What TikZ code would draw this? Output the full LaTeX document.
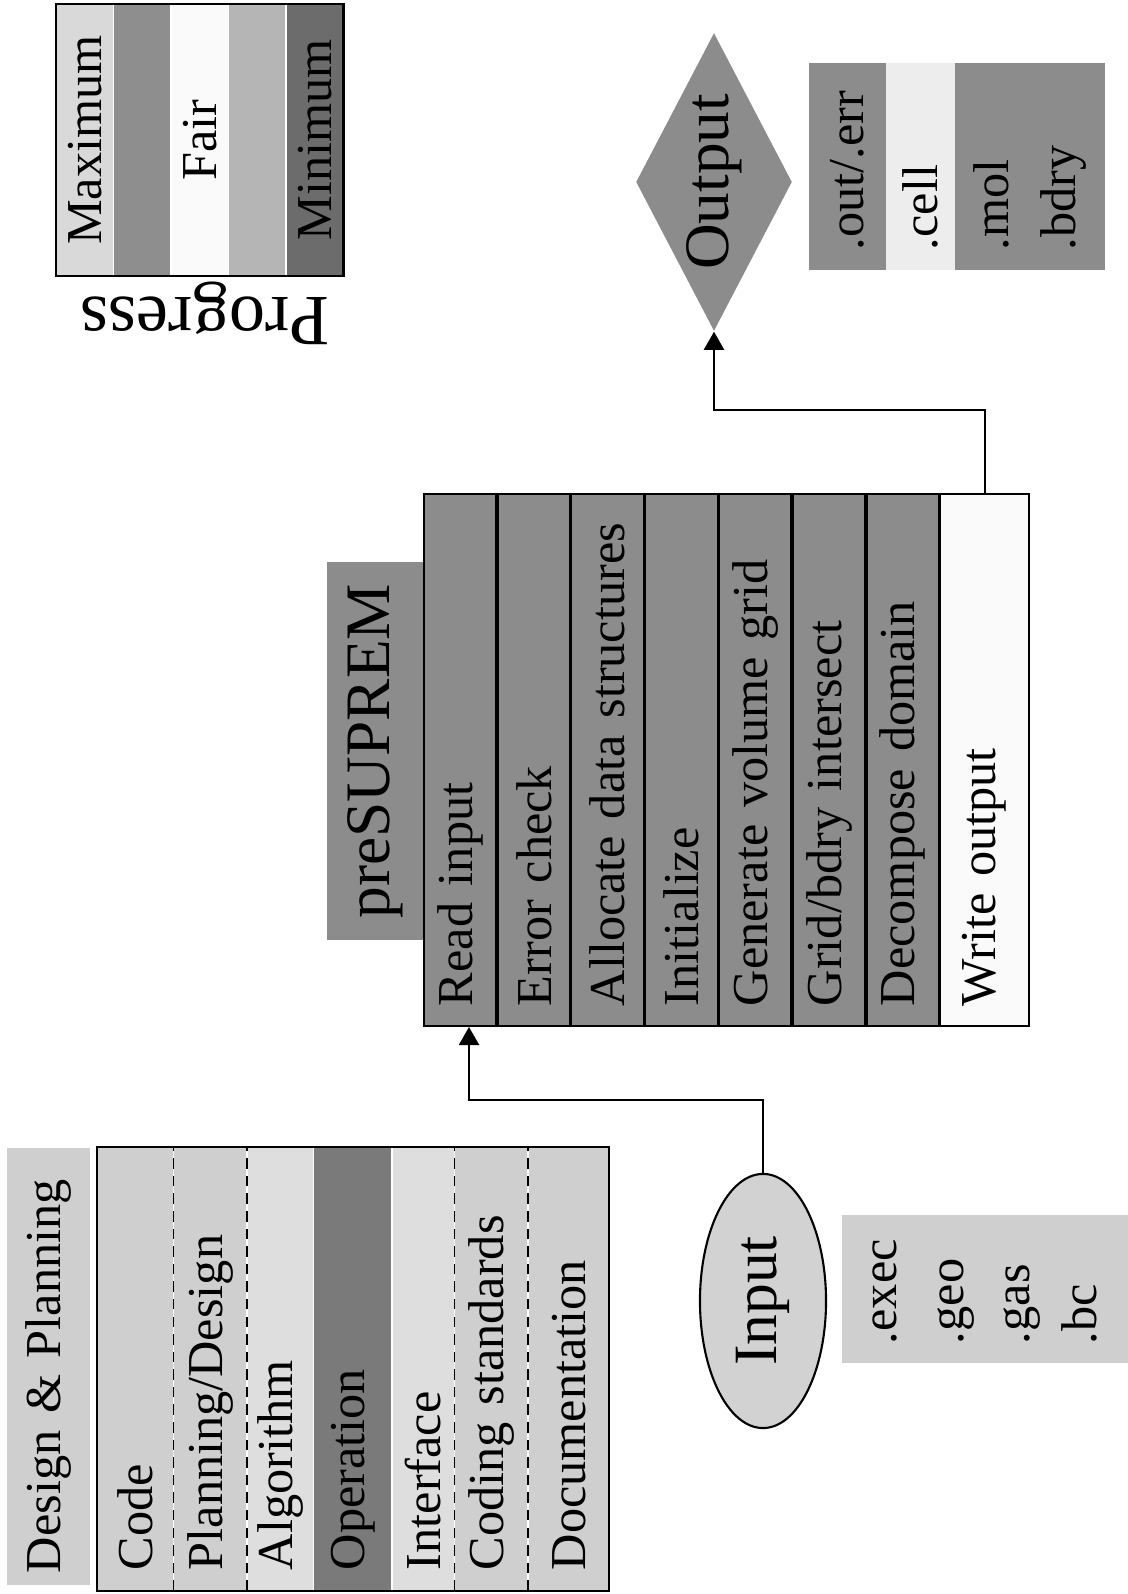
\documentclass[tikz,border=0pt]{standalone}
\usepackage{fontspec}
\setmainfont{Liberation Serif}
\usetikzlibrary{arrows.meta,positioning,shapes.geometric}
\definecolor{MaxGray}{HTML}{D9D9D9}
\definecolor{HighGray}{HTML}{8E8E8E}
\definecolor{FairWhite}{HTML}{FAFAFA}
\definecolor{LowGray}{HTML}{B5B5B5}
\definecolor{MinGray}{HTML}{6C6C6C}
\definecolor{PaleGray}{HTML}{CFCFCF}
\definecolor{PalerGray}{HTML}{DEDEDE}
\definecolor{MidGray}{HTML}{8C8C8C}
\definecolor{DarkGray}{HTML}{7A7A7A}
\definecolor{InGray}{HTML}{D2D2D2}
\newcommand\cellfont{\fontsize{14.3pt}{19pt}\selectfont\hyphenpenalty=10000}
\tikzset{
  stripe/.style={minimum width=2.70cm,minimum height=.56cm,inner sep=0pt,font=\cellfont},
  header/.style={fill=PaleGray,minimum width=4.37cm,minimum height=.83cm,inner xsep=.12cm,
    inner ysep=0pt,text width=4.13cm,align=left,font=\cellfont},
  plan/.style={fill=PaleGray,minimum width=4.42cm,inner xsep=.2cm,inner ysep=0pt,
    text width=4.02cm,align=left,font=\cellfont},
  stage/.style={draw=black,line width=.5pt,fill=MidGray,minimum width=5.32cm,minimum height=.72cm,
    inner xsep=.2cm,inner ysep=0pt,text width=4.92cm,align=left,font=\cellfont},
  filebox/.style={minimum width=2.07cm,inner xsep=.2cm,inner ysep=0pt,text width=1.67cm,
    align=left,font=\cellfont},
  sepline/.style={densely dashed,line width=.4pt},
  arrow/.style={-{Triangle[length=.18cm,width=.2cm]},draw=black,line width=.6pt}
}
\begin{document}
\begin{tikzpicture}[x=0.01cm,y=0.01cm]
  \useasboundingbox (0,0) rectangle (1128,1594);
  \begin{scope}[shift={(1128,0)},rotate=90,transform shape]
    % legend
    \node[stripe,fill=MaxGray] (maximum) at (1454,1043) {Maximum};
    \node[stripe,fill=HighGray,below=0pt of maximum] (high) {};
    \node[stripe,fill=FairWhite,below=0pt of high] (fair) {Fair};
    \node[stripe,fill=LowGray,below=0pt of fair] (low) {};
    \node[stripe,fill=MinGray,below=0pt of low] (minimum) {Minimum};
    \draw[line width=.6pt] (maximum.north west) rectangle (minimum.south east);
    \node[font=\fontsize{20.5pt}{22pt}\selectfont,rotate=90] (progress) at (1281,923) {Progress};

    % design and planning table
    \node[header] (design) at (227.5,1079.5) {Design \& Planning};
    \node[plan,minimum height=.75cm] (code) at (225,992.5) {Code};
    \node[plan,minimum height=.72cm,below=0pt of code] (plandesign) {Planning/Design};
    \node[plan,fill=PalerGray,minimum height=.65cm,below=0pt of plandesign] (algorithm) {Algorithm};
    \node[plan,fill=DarkGray,minimum height=.77cm,below=0pt of algorithm] (operation) {Operation};
    \node[plan,fill=PalerGray,minimum height=.61cm,below=0pt of operation] (interface) {Interface};
    \node[plan,minimum height=.72cm,below=0pt of interface] (codingstd) {Coding standards};
    \node[plan,minimum height=.80cm,below=0pt of codingstd] (documentation) {Documentation};
    \draw[sepline] (code.south west) -- (code.south east);
    \draw[sepline] (plandesign.south west) -- (plandesign.south east);
    \draw[sepline] (interface.south west) -- (interface.south east);
    \draw[sepline] (codingstd.south west) -- (codingstd.south east);
    \draw[line width=.6pt] (code.north west) rectangle (documentation.south east);

    % preSUPREM
    \node[fill=MidGray,minimum width=3.78cm,minimum height=.97cm,inner sep=0pt,
      font=\fontsize{18pt}{20pt}\selectfont] (presuprem) at (843,752.5) {preSUPREM};
    \node[stage] (readin) at (834,668) {Read input};
    \node[stage,below=0pt of readin] (errcheck) {Error check};
    \node[stage,below=0pt of errcheck] (allocate) {Allocate data structures};
    \node[stage,below=0pt of allocate] (initialize) {Initialize};
    \node[stage,below=0pt of initialize] (gengrid) {Generate volume grid};
    \node[stage,below=0pt of gengrid] (intersect) {Grid/bdry intersect};
    \node[stage,below=0pt of intersect] (decompose) {Decompose domain};
    \node[stage,fill=FairWhite,minimum height=.88cm,below=0pt of decompose] (writeout) {Write output};

    % input
    \node[ellipse,draw,line width=.6pt,fill=InGray,minimum width=2.54cm,minimum height=1.26cm,
      inner sep=0pt,font=\fontsize{17.5pt}{20pt}\selectfont] (input) at (293,365) {Input};
    \node[filebox,fill=PaleGray,minimum width=1.48cm,text width=1.1cm,inner xsep=.19cm,
      minimum height=2.86cm] (infiles) at (305,143) {.exec\\.geo\\.gas\\.bc};
    \draw[arrow] (input.east) -- ++(73,0) |- ([yshift=-.09cm]readin.west);

    % output
    \node[diamond,aspect=1.91,fill=MidGray,inner sep=0pt,minimum width=2.98cm,minimum height=1.56cm,
      font=\fontsize{18pt}{20pt}\selectfont] (output) at (1412,414) {Output};
    \node[filebox,fill=MidGray,minimum height=.77cm] (outerr) at (1427.5,280.5) {.out/.err};
    \node[filebox,fill=FairWhite!95!black,minimum height=.69cm] (cell) at (1427.5,207.5) {.cell};
    \node[filebox,fill=MidGray,minimum height=1.50cm] (molbdry) at (1427.5,98) {.mol\\.bdry};
    \draw[arrow] (writeout.east) -- ++(83,0) |- (output.west);
  \end{scope}
\end{tikzpicture}
\end{document}
